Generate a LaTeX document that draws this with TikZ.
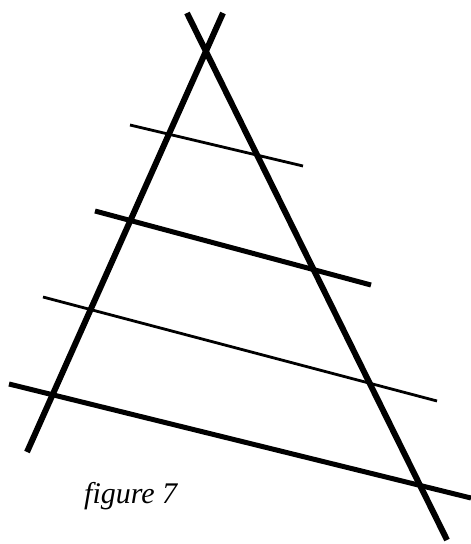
\documentclass[tikz,border=0pt]{standalone}
\usepackage{fontspec}
\setmainfont{Liberation Serif}
\usepackage{tikz}
\tikzset{
  side/.style={line width=6pt},
  rungthick/.style={line width=5pt},
  rungthin/.style={line width=2.8pt}
}
\begin{document}
\begin{tikzpicture}[x=1pt,y=-1pt]
\useasboundingbox (0,0) rectangle (471,544);
% the two sides
\draw[side] (223,13)--(27,452);
\draw[side] (187,13)--(447,540);
% the transversals
\draw[rungthin] (130,125)--(303,166);
\draw[rungthick] (95,211)--(371,285);
\draw[rungthin] (43,297)--(437,401);
\draw[rungthick] (9,384)--(471,498);
\node[anchor=base west,inner sep=0pt,font=\fontsize{30}{34}\selectfont\itshape] (cap) at (84,503) {figure 7};
\end{tikzpicture}
\end{document}
